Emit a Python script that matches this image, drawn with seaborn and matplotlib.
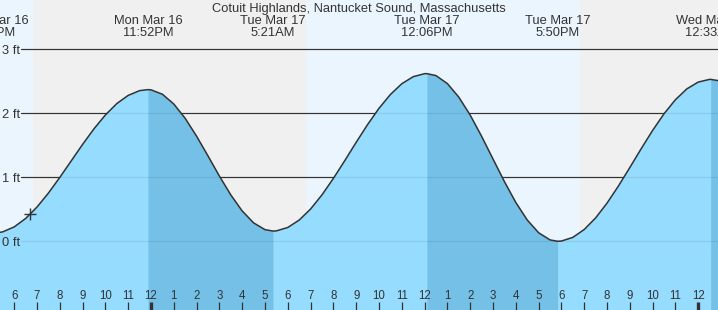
import matplotlib
matplotlib.use("Agg")
import matplotlib.pyplot as plt
import matplotlib.transforms as mtransforms
import pandas as pd
import seaborn as sns

# ---- data (hours relative to Tue Mar 17 00:00, heights in ft) ----
hours = [-6.75, -6.5, -6.0, -5.5, -5.0, -4.5, -4.0, -3.5, -3.0, -2.5, -2.0, -1.5, -1.0, -0.5, -0.133,
         0.0, 0.5, 1.0, 1.5, 2.0, 2.5, 3.0, 3.5, 4.0, 4.5, 5.0, 5.35,
         5.5, 6.0, 6.5, 7.0, 7.5, 8.0, 8.5, 9.0, 9.5, 10.0, 10.5, 11.0, 11.5, 12.0, 12.1,
         12.5, 13.0, 13.5, 14.0, 14.5, 15.0, 15.5, 16.0, 16.5, 17.0, 17.5, 17.833,
         18.0, 18.5, 19.0, 19.5, 20.0, 20.5, 21.0, 21.5, 22.0, 22.5, 23.0, 23.5, 24.0, 24.5, 24.55, 25.0]
height_ft = [0.132, 0.148, 0.225, 0.356, 0.535, 0.753, 0.998, 1.256, 1.514, 1.758, 1.974, 2.152, 2.280, 2.354, 2.370,
             2.367, 2.298, 2.145, 1.921, 1.642, 1.334, 1.019, 0.725, 0.474, 0.288, 0.182, 0.160,
             0.163, 0.216, 0.332, 0.505, 0.726, 0.983, 1.261, 1.547, 1.824, 2.078, 2.294, 2.462, 2.572, 2.619, 2.620,
             2.589, 2.464, 2.253, 1.972, 1.641, 1.286, 0.933, 0.607, 0.334, 0.134, 0.022, 0.000,
             0.004, 0.061, 0.184, 0.365, 0.596, 0.863, 1.152, 1.447, 1.732, 1.992, 2.212, 2.381, 2.488, 2.530, 2.530, 2.503]

extreme_hours = [-6.89, -0.133, 5.35, 12.1, 17.833, 24.55]
extreme_kind = ["low", "high", "low", "high", "low", "high"]
extreme_day = ["Mon Mar 16", "Mon Mar 16", "Tue Mar 17", "Tue Mar 17", "Tue Mar 17", "Wed Mar 18"]
extreme_time = ["5:07PM", "11:52PM", "5:21AM", "12:06PM", "5:50PM", "12:33AM"]

night_start = [-5.18, 18.83]
night_end = [6.80, 30.0]

now_hour = -5.31
now_ft = 0.42

hour_ticks = list(range(-6, 25))
hour_labels = [str((h % 12) or 12) for h in hour_ticks]
midnight_ticks = [0, 24]
ft_ticks = [0, 1, 2, 3]
ft_labels = ["0 ft", "1 ft", "2 ft", "3 ft"]
title = "Cotuit Highlands, Nantucket Sound, Massachusetts"

# ---- style ----
DAY = "#ebf5fe"
NIGHT = "#f0f0f0"
FILL = "#95dcfe"
FILL_DARK = "#74c0e6"
INK = "#333333"

sns.set_theme(style="white")
plt.rcParams["font.family"] = ["Liberation Sans", "DejaVu Sans"]

W, H, DPI = 718, 310, 100
fig = plt.figure(figsize=(W / DPI, H / DPI), dpi=DPI)
ax = fig.add_axes([0, 0, 1, 1])
ax.set_facecolor(DAY)
ax.set_axisbelow(False)
for s in ax.spines.values():
    s.set_visible(False)

xmin, xmax = -151 / 22.8, 567 / 22.8
ymin, ymax = -(310 - 241.3) / 64, 3 + 49.3 / 64
ax.set_xlim(xmin, xmax)
ax.set_ylim(ymin, ymax)

for a, b in zip(night_start, night_end):
    ax.axvspan(a, b, color=NIGHT, lw=0, zorder=0)

line_x0 = 21 / W
for y in ft_ticks:
    ax.axhline(y, xmin=line_x0, xmax=1, color=INK, lw=0.85, zorder=1)

df = pd.DataFrame({"hour": hours, "ft": height_ft})
ax.fill_between(df["hour"], df["ft"], ymin, color=FILL, lw=0, zorder=2)

# darker fill on falling tide (high -> next low)
for i, k in enumerate(extreme_kind):
    if k == "high":
        start = extreme_hours[i]
        end = extreme_hours[i + 1] if i + 1 < len(extreme_hours) else max(hours)
        seg = df[(df["hour"] >= start) & (df["hour"] <= end)]
        ax.fill_between(seg["hour"], seg["ft"], ymin, color=FILL_DARK, lw=0, zorder=2.1)

for y in ft_ticks:
    ax.axhline(y, xmin=line_x0, xmax=1, color=INK, lw=0.85, alpha=0.1, zorder=2.2)

sns.lineplot(data=df, x="hour", y="ft", ax=ax, color=INK, lw=1.1, zorder=3)
ax.plot([now_hour], [now_ft], marker="+", ms=9, mew=1.0, color=INK, zorder=4)

ax.set_xlabel("")
ax.set_ylabel("")

# hour ticks along the bottom, labels inside
ax.set_xticks(hour_ticks)
ax.set_xticklabels(hour_labels)
ax.tick_params(axis="x", direction="in", length=5.8, width=0.9, color=INK,
               pad=-14.6, labelsize=8.3, labelcolor=INK, bottom=True)
for t, h in zip(ax.xaxis.get_major_ticks(), hour_ticks):
    if h in midnight_ticks:
        t.tick1line.set_markeredgewidth(2.4)

ax.set_yticks(ft_ticks)
ax.set_yticklabels(ft_labels)
ax.tick_params(axis="y", length=0, pad=-14.2, labelsize=9.3, labelcolor=INK, left=True)

# header labels
trans = mtransforms.blended_transform_factory(ax.transData, ax.transAxes)
ax.text(0.5, 1 - 12 / H, title, transform=ax.transAxes, ha="center", va="baseline",
        fontsize=9.3, color=INK)
for h, d, tm in zip(extreme_hours, extreme_day, extreme_time):
    ax.text(h, 1 - 24 / H, d, transform=trans, ha="center", va="baseline",
            fontsize=9.3, color=INK, clip_on=False)
    ax.text(h, 1 - 36.5 / H, tm, transform=trans, ha="center", va="baseline",
            fontsize=9.3, color=INK, clip_on=False)

fig.savefig("out.png", dpi=DPI)
